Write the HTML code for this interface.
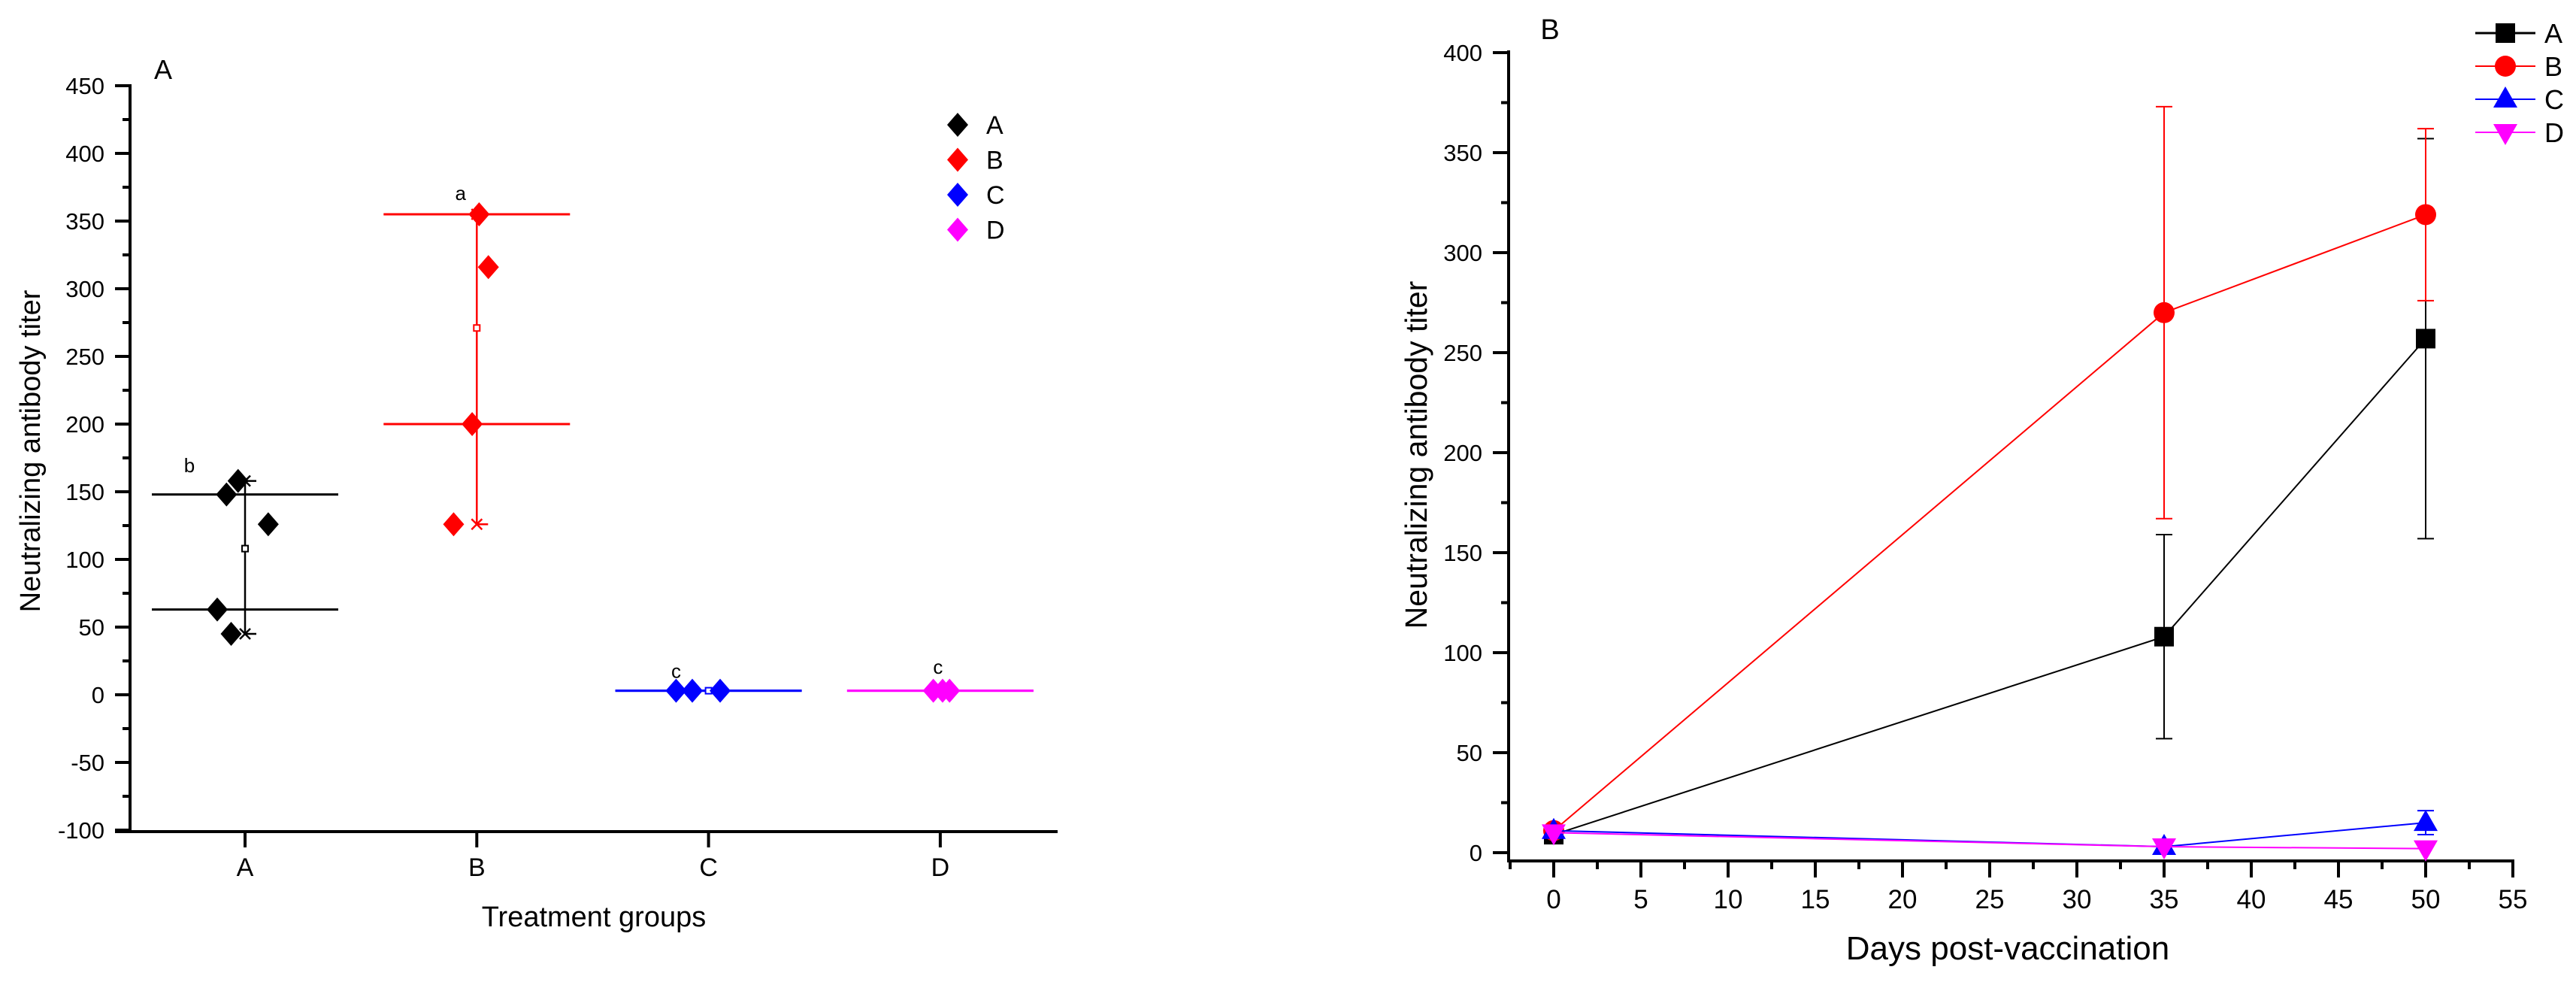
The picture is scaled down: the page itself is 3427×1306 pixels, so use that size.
<!DOCTYPE html>
<html><head><meta charset="utf-8"><style>
html,body{margin:0;padding:0;background:#fff}
svg{display:block}
text{font-family:"Liberation Sans",Arial,sans-serif;fill:#000}
</style></head><body>
<svg id="fig" width="3427" height="1306" viewBox="0 0 3427 1306" xmlns="http://www.w3.org/2000/svg">
<g id="left"></g>
<g id="right"></g>
</svg>
<script>
// ---------- Panel A data ----------
const catLabels = ["A","B","C","D"];
const catColors = ["#000000","#ff0000","#0000ff","#ff00ff"];
const ptsA = [158,148,126,63,45];
const ptsB = [355,316,200,126];
const ptsC = [3,3,3];
const ptsD = [3,3,3];
const jitA = [-0.03,-0.08,0.10,-0.12,-0.06];
const jitB = [0.01,0.05,-0.02,-0.10];
const jitC = [-0.14,-0.07,0.05];
const jitD = [-0.03,0.01,0.04];
const boxHigh = [148,355,3,3];
const boxLow = [63,200,3,3];
const whiskLow = [45,126,3,3];
const whiskHigh = [158,355,3,3];
const means = [108,271,3,3];
const sigLetters = ["b","a","c","c"];
const sigValues = [169,370,17,20];
const sigOffsets = [-0.24,-0.07,-0.14,-0.01];
const yTicksA = [-100,-50,0,50,100,150,200,250,300,350,400,450];

// ---------- Panel B data ----------
const days = [0,35,50];
const seriesNames = ["A","B","C","D"];
const serA = [9,108,257];
const serB = [11,270,319];
const serC = [11,3,15];
const serD = [10,3,2];
const errA = [0,51,100];
const errB = [3,103,43];
const errC = [1,0,6];
const errD = [0,0,0];
const xTicksB = [0,5,10,15,20,25,30,35,40,45,50,55];
const yTicksB = [0,50,100,150,200,250,300,350,400];

const NS = "http://www.w3.org/2000/svg";
function mk(parent, tag, attrs, txt){
  const e = document.createElementNS(NS, tag);
  for (const k in attrs) e.setAttribute(k, attrs[k]);
  if (txt !== undefined) e.textContent = txt;
  parent.appendChild(e);
  return e;
}

// ===== Panel A =====
const L = document.getElementById('left');
const yA = v => 114 + (450 - v) * 1.8;
const xA = c => 326 + 308.3 * c;
let e;
e = mk(L,'line',{x1:173,y1:112,x2:173,y2:1108,stroke:'#000','stroke-width':4});
 
e = mk(L,'line',{x1:153,y1:1106,x2:1407,y2:1106,stroke:'#000','stroke-width':4});
 
yTicksA.forEach(v=>{
  const t = mk(L,'line',{x1:153,y1:yA(v),x2:173,y2:yA(v),stroke:'#000','stroke-width':4});
   
  const lb = mk(L,'text',{x:139,y:yA(v)+11,'font-size':31,'text-anchor':'end'},String(v));
   
  if (v < 450){
    const m = mk(L,'line',{x1:163,y1:yA(v+25),x2:173,y2:yA(v+25),stroke:'#000','stroke-width':4});
     
  }
});
catLabels.forEach((c,i)=>{
  const t = mk(L,'line',{x1:xA(i),y1:1106,x2:xA(i),y2:1127,stroke:'#000','stroke-width':4});
   
  const lb = mk(L,'text',{x:xA(i),y:1165,'font-size':34,'text-anchor':'middle'},c);
   
});
e = mk(L,'text',{x:217,y:105,'font-size':36,'text-anchor':'middle'},'A');
 
e = mk(L,'text',{x:790,y:1232,'font-size':38,'text-anchor':'middle'},'Treatment groups');
 
e = mk(L,'text',{x:0,y:0,'font-size':38,'text-anchor':'middle',transform:'translate(53,600) rotate(-90)'},'Neutralizing antibody titer');
 

function diamond(parent, cx, cy, col){
  return mk(parent,'polygon',{points:`${cx},${cy-16} ${cx+14},${cy} ${cx},${cy+16} ${cx-14},${cy}`,fill:col});
}
const allPts = [ptsA,ptsB,ptsC,ptsD];
const allJit = [jitA,jitB,jitC,jitD];
catLabels.forEach((c,i)=>{
  const col = catColors[i];
  const cx = xA(i);
  const g = mk(L,'g',{});
   
  [boxHigh[i], boxLow[i]].forEach(v=>{
    const ln = mk(g,'line',{x1:cx-124,y1:yA(v),x2:cx+124,y2:yA(v),stroke:col,'stroke-width':3});
     
  });
  const wl = mk(g,'line',{x1:cx,y1:yA(whiskHigh[i]),x2:cx,y2:yA(whiskLow[i]),stroke:col,'stroke-width':2.5});
   
  if (whiskHigh[i] - whiskLow[i] > 10){
    [whiskHigh[i], whiskLow[i]].forEach(v=>{
      const y = yA(v);
      const xm = mk(g,'path',{d:`M${cx-7},${y-7}L${cx+7},${y+7}M${cx-7},${y+7}L${cx+7},${y-7}M${cx},${y}L${cx+15},${y}`,stroke:col,'stroke-width':2.5,fill:'none'});
       
    });
  }
  const mn = mk(g,'rect',{x:cx-4,y:yA(means[i])-4,width:8,height:8,fill:'#fff',stroke:col,'stroke-width':2});
   
  allPts[i].forEach((v,j)=>{
    const d = diamond(g, cx + allJit[i][j]*308.3, yA(v), col);
     
  });
  const s = mk(L,'text',{x:cx+sigOffsets[i]*308.3,y:yA(sigValues[i])+8,'font-size':26,'text-anchor':'middle'},sigLetters[i]);
   
});
catLabels.forEach((c,i)=>{
  const y = 166 + 46.5*i;
  const d = diamond(L, 1274, y, catColors[i]);
   
  const t = mk(L,'text',{x:1312,y:y+12,'font-size':34},c);
   
});

// ===== Panel B =====
const R = document.getElementById('right');
const xB = d => 2067 + 23.2 * d;
const yB = v => 1134 - v * 2.66;
e = mk(R,'line',{x1:2007,y1:67,x2:2007,y2:1147,stroke:'#000','stroke-width':4});
 
e = mk(R,'line',{x1:2005,y1:1145,x2:3345,y2:1145,stroke:'#000','stroke-width':4});
 
yTicksB.forEach(v=>{
  const t = mk(R,'line',{x1:1986,y1:yB(v),x2:2007,y2:yB(v),stroke:'#000','stroke-width':4});
   
  const lb = mk(R,'text',{x:1972,y:yB(v)+11,'font-size':31,'text-anchor':'end'},String(v));
   
  if (v < 400){
    const m = mk(R,'line',{x1:1997,y1:yB(v+25),x2:2007,y2:yB(v+25),stroke:'#000','stroke-width':4});
     
  }
});
xTicksB.forEach(d=>{
  const t = mk(R,'line',{x1:xB(d),y1:1145,x2:xB(d),y2:1167,stroke:'#000','stroke-width':4});
   
  const lb = mk(R,'text',{x:xB(d),y:1208,'font-size':35,'text-anchor':'middle'},String(d));
   
  const m = mk(R,'line',{x1:xB(d-2.5),y1:1145,x2:xB(d-2.5),y2:1156,stroke:'#000','stroke-width':4});
   
});
e = mk(R,'text',{x:2062,y:52,'font-size':38,'text-anchor':'middle'},'B');
 
e = mk(R,'text',{x:2671,y:1276,'font-size':44,'text-anchor':'middle'},'Days post-vaccination');
 
e = mk(R,'text',{x:0,y:0,'font-size':41,'text-anchor':'middle',transform:'translate(1898,605) rotate(-90)'},'Neutralizing antibody titer');
 

function marker(parent, kind, cx, cy, col){
  if (kind==0) return mk(parent,'rect',{x:cx-13,y:cy-13,width:26,height:26,fill:col});
  if (kind==1) return mk(parent,'circle',{cx:cx,cy:cy,r:14,fill:col});
  if (kind==2) return mk(parent,'polygon',{points:`${cx},${cy-17} ${cx+16},${cy+11} ${cx-16},${cy+11}`,fill:col});
  return mk(parent,'polygon',{points:`${cx},${cy+17} ${cx+16},${cy-11} ${cx-16},${cy-11}`,fill:col});
}
const sers = [serA,serB,serC,serD];
const errs = [errA,errB,errC,errD];
seriesNames.forEach((n,i)=>{
  const col = catColors[i];
  const g = mk(R,'g',{});
   
  const pts = days.map((d,j)=>xB(d)+','+yB(sers[i][j])).join(' ');
  const pl = mk(g,'polyline',{points:pts,fill:'none',stroke:col,'stroke-width':2});
   
  days.forEach((d,j)=>{
    const er = errs[i][j];
    if (er>0){
      const x = xB(d), y1 = yB(sers[i][j]+er), y2 = yB(sers[i][j]-er);
      const eb = mk(g,'path',{d:`M${x},${y1}L${x},${y2}M${x-11},${y1}L${x+11},${y1}M${x-11},${y2}L${x+11},${y2}`,stroke:col,'stroke-width':2,fill:'none'});
       
    }
  });
  days.forEach((d,j)=>{
    const mm = marker(g, i, xB(d), yB(sers[i][j]), col);
     
  });
  const y = 44 + 44*i;
  const lg = mk(R,'g',{});
   
  mk(lg,'line',{x1:3293,y1:y,x2:3373,y2:y,stroke:col,'stroke-width':i==0?3:2});
  marker(lg, i, 3333, y, col);
  mk(lg,'text',{x:3385,y:y+13,'font-size':36},n);
});
</script>
</body></html>
